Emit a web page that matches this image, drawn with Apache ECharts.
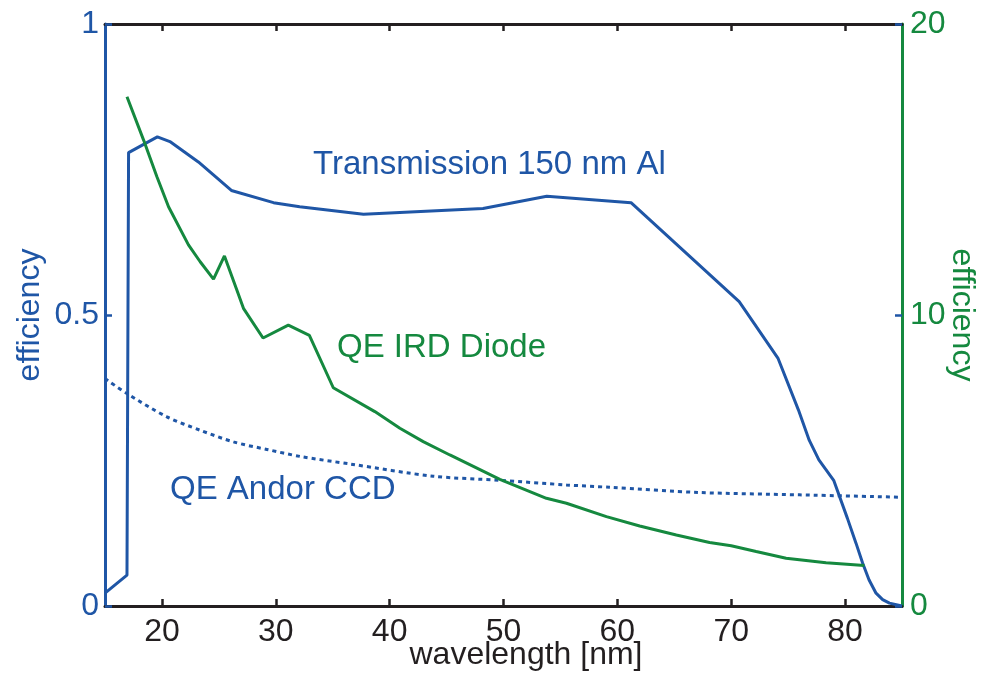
<!DOCTYPE html>
<html>
<head>
<meta charset="utf-8">
<script src="https://cdn.jsdelivr.net/npm/echarts@6/dist/echarts.min.js"></script>
<style>html,body{margin:0;padding:0;background:#fff}#c{width:983px;height:675px}</style>
</head>
<body>
<div id="c"></div>
<script>
var xTicks = [20, 30, 40, 50, 60, 70, 80];

var transWl  = [15.0, 16.93, 17.07, 19.6, 20.7, 23.2, 26.1, 29.8, 32.1, 37.7, 48.2, 51.4, 53.8, 61.2, 70.7, 74.1, 75.9, 76.85, 77.7, 79.0, 80.2, 80.96, 81.54, 82.1, 82.72, 83.3, 83.9, 84.8, 85.0];
var transVal = [0.022, 0.053, 0.779, 0.806, 0.798, 0.763, 0.714, 0.693, 0.686, 0.673, 0.683, 0.695, 0.704, 0.693, 0.523, 0.426, 0.337, 0.285, 0.251, 0.216, 0.151, 0.108, 0.074, 0.045, 0.022, 0.011, 0.005, 0.001, 0.0];

var diodeWl  = [16.93, 18.39, 19.56, 20.58, 22.33, 23.36, 24.53, 25.49, 26.58, 27.16, 28.88, 31.1, 32.95, 35.05, 38.7, 40.9, 42.95, 45.29, 49.68, 53.77, 55.53, 59.04, 61.96, 65.18, 68.1, 70.0, 72.19, 74.82, 78.33, 81.69];
var diodeVal = [17.5, 16.01, 14.75, 13.72, 12.41, 11.83, 11.23, 12.03, 10.86, 10.23, 9.21, 9.65, 9.3, 7.5, 6.68, 6.11, 5.65, 5.19, 4.35, 3.70, 3.53, 3.07, 2.75, 2.44, 2.18, 2.07, 1.87, 1.64, 1.49, 1.39];

var ccdWl  = [15.0, 16.93, 20.44, 23.36, 26.28, 29.21, 32.13, 36.52, 43.83, 49.68, 55.53, 59.3, 67.22, 75.99, 84.76];
var ccdVal = [0.391, 0.365, 0.325, 0.302, 0.282, 0.269, 0.257, 0.244, 0.223, 0.216, 0.208, 0.204, 0.195, 0.191, 0.187];

function zip(a, b) { return a.map(function (v, i) { return [v, b[i]]; }); }

var BLUE = '#1f56a6', GREEN = '#15893f', BLACK = '#231f20';
var FONT = '"Liberation Sans", Arial, Helvetica, sans-serif';

var chart = echarts.init(document.getElementById('c'));
chart.setOption({
  animation: false,
  backgroundColor: '#fff',
  grid: { left: 105, right: 81, top: 24, bottom: 69, containLabel: false, outerBoundsMode: 'none' },
  xAxis: [{
    type: 'value', min: 15, max: 85, position: 'bottom',
    name: 'wavelength [nm]', nameLocation: 'middle', nameGap: 33, nameMoveOverlap: false,
    nameTextStyle: { color: BLACK, fontSize: 32, fontFamily: FONT, padding: [0, 0, 0, 45] },
    axisLine: { show: true, onZero: false, lineStyle: { color: BLACK, width: 3 } },
    axisTick: { show: true, inside: true, length: 7, customValues: xTicks, lineStyle: { color: BLACK, width: 2.5 } },
    axisLabel: { show: true, customValues: xTicks, color: BLACK, fontSize: 32, fontFamily: FONT, margin: 10 },
    splitLine: { show: false }
  }, {
    type: 'value', min: 15, max: 85, position: 'top',
    axisLine: { show: true, onZero: false, lineStyle: { color: BLACK, width: 3 } },
    axisTick: { show: true, inside: true, length: 7, customValues: xTicks, lineStyle: { color: BLACK, width: 2.5 } },
    axisLabel: { show: false },
    splitLine: { show: false }
  }],
  yAxis: [{
    type: 'value', min: 0, max: 1, interval: 0.5, position: 'left',
    name: 'efficiency', nameLocation: 'middle', nameGap: 59, nameRotate: 90, nameMoveOverlap: false,
    nameTextStyle: { color: BLUE, fontSize: 32, fontFamily: FONT },
    axisLine: { show: true, onZero: false, lineStyle: { color: BLUE, width: 3 } },
    axisTick: { show: true, inside: true, length: 7, lineStyle: { color: BLUE, width: 2.5 } },
    axisLabel: { color: BLUE, fontSize: 32, fontFamily: FONT, margin: 6 },
    splitLine: { show: false }
  }, {
    type: 'value', min: 0, max: 20, interval: 10, position: 'right',
    name: 'efficiency', nameLocation: 'middle', nameGap: 44, nameRotate: -90, nameMoveOverlap: false,
    nameTextStyle: { color: GREEN, fontSize: 32, fontFamily: FONT },
    axisLine: { show: true, onZero: false, lineStyle: { color: GREEN, width: 3 } },
    axisTick: { show: true, inside: true, length: 7, lineStyle: { color: BLUE, width: 2.5 } },
    axisLabel: { color: GREEN, fontSize: 32, fontFamily: FONT, margin: 8 },
    splitLine: { show: false }
  }],
  series: [{
    name: 'Transmission 150 nm Al', type: 'line', xAxisIndex: 0, yAxisIndex: 0,
    data: zip(transWl, transVal), showSymbol: false, symbol: 'none',
    lineStyle: { color: BLUE, width: 3 }, z: 3
  }, {
    name: 'QE Andor CCD', type: 'line', xAxisIndex: 0, yAxisIndex: 0,
    data: zip(ccdWl, ccdVal), showSymbol: false, symbol: 'none', smooth: 0.3,
    lineStyle: { color: BLUE, width: 3, type: [4, 4] }, z: 3
  }, {
    name: 'QE IRD Diode', type: 'line', xAxisIndex: 0, yAxisIndex: 1,
    data: zip(diodeWl, diodeVal), showSymbol: false, symbol: 'none',
    lineStyle: { color: GREEN, width: 3 }, z: 3
  }],
  graphic: [
    { type: 'text', left: 313, top: 148, style: { text: 'Transmission 150 nm Al', fill: BLUE, fontSize: 33, fontFamily: FONT } },
    { type: 'text', left: 337, top: 331, style: { text: 'QE IRD Diode', fill: GREEN, fontSize: 33, fontFamily: FONT } },
    { type: 'text', left: 170, top: 473, style: { text: 'QE Andor CCD', fill: BLUE, fontSize: 33, fontFamily: FONT } }
  ]
});
</script>
</body>
</html>
